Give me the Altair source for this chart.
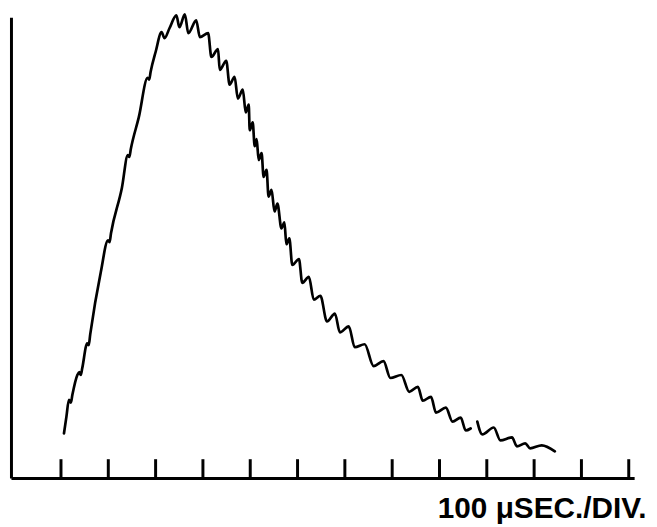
import altair as alt
import pandas as pd

# Oscilloscope trace: time in microseconds, amplitude in arbitrary units (0..465)
trace_time_us = [6.3, 11.5, 16.8, 20.9, 24.1, 34.6, 38.7, 41.9, 45.0, 55.5, 58.6, 61.8, 84.2,
                 99.5, 102.6, 105.7, 128.8, 141.3, 144.5, 147.6, 164.4, 183.2, 186.4, 189.5,
                 200.0, 212.6, 218.8, 229.3, 243.9, 250.2, 261.8, 269.1, 285.8, 293.6, 311.0,
                 317.9, 331.9, 335.5, 349.3, 356.4, 366.9, 373.8, 384.3, 390.5, 396.8, 398.9,
                 405.2, 409.4, 413.6, 417.8, 424.0, 428.2, 434.5, 438.7, 445.0, 451.3, 457.5,
                 465.9, 472.2, 476.4, 482.6, 488.9, 503.0, 509.9, 523.9, 534.4, 548.2, 562.2,
                 579.0, 589.5, 608.3, 620.9, 641.8, 660.7, 681.6, 696.3, 719.3, 736.1, 754.3,
                 764.7, 782.1, 792.6, 813.5, 827.5, 844.9, 855.4, 865.9]
trace_amp = [45, 62, 79, 76, 84, 104, 107, 104, 111, 136, 134, 145, 208,
             240, 238, 247, 293, 326, 324, 332, 364, 404, 402, 410,
             430, 450, 444, 454, 467, 455, 468, 449, 462, 445, 449,
             425, 433, 412, 421, 397, 405, 383, 392, 369, 377, 351,
             359, 335, 342, 321, 328, 304, 311, 284, 291, 269, 277,
             252, 258, 236, 242, 215, 221, 197, 203, 180, 184, 158,
             166, 147, 153, 132, 135, 113, 118, 101, 104, 87, 92,
             78, 82, 66, 71, 57, 61, 48, 50]

# the trace breaks briefly, then continues
tail_time_us = [879.9, 890.4, 914.7, 928.7, 953.2, 963.7, 981.1, 991.5, 1016.0, 1043.8]
tail_amp = [57, 44, 51, 38, 41, 32, 35, 30, 33, 27]

division_ticks_us = [0, 100, 200, 300, 400, 500, 600, 700, 800, 900, 1000, 1100, 1200]
x_label = "100 \u03bcSEC./DIV."

df = pd.concat([
    pd.DataFrame({"t": trace_time_us, "a": trace_amp, "seg": "main"}),
    pd.DataFrame({"t": tail_time_us, "a": tail_amp, "seg": "tail"}),
], ignore_index=True)
df["order"] = range(len(df))
ticks_df = pd.DataFrame({"t": division_ticks_us})

xscale = alt.Scale(domain=[-105.7, 1211.4], nice=False, zero=False)
yscale = alt.Scale(domain=[0, 465], nice=False, zero=False)

xaxis = alt.Axis(title=x_label, labels=False, ticks=False, grid=False,
                 domain=True, domainColor="black", domainWidth=3,
                 titleFont="Liberation Sans", titleFontSize=30, titleFontWeight="bold",
                 titleColor="black", titleX=641, titleY=40, titleAlign="right",
                 titleBaseline="alphabetic", titleAnchor="end")
yaxis = alt.Axis(title=None, labels=False, ticks=False, grid=False,
                 domain=True, domainColor="black", domainWidth=3)

line = alt.Chart(df).mark_line(color="black", strokeWidth=2.7, interpolate="monotone",
                               strokeCap="round", strokeJoin="round").encode(
    x=alt.X("t:Q", scale=xscale, axis=xaxis),
    y=alt.Y("a:Q", scale=yscale, axis=yaxis),
    detail="seg:N",
    order="order:Q",
)

ticks = alt.Chart(ticks_df).mark_rule(color="black", strokeWidth=3).encode(
    x=alt.X("t:Q", scale=xscale),
    y=alt.value(465),
    y2=alt.value(446),
)

chart = alt.layer(line, ticks).properties(
    width=629, height=465,
    background="white",
    padding={"left": 3, "top": 7, "right": 15, "bottom": 47},
    autosize=alt.AutoSizeParams(type="none"),
).configure_view(stroke=None)

chart.save("out.html", embed_options={"renderer": "svg", "actions": False})
